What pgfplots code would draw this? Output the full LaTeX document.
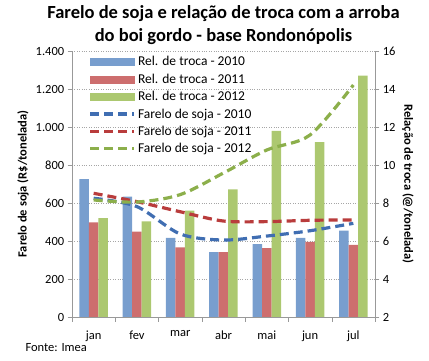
\documentclass[border=0pt]{standalone}
\usepackage{pgfplots}
\pgfplotsset{compat=1.18}
\usepackage{fontspec}
\setmainfont{Carlito}
\definecolor{barblue}{RGB}{120,158,206}
\definecolor{barred}{RGB}{205,110,110}
\definecolor{bargreen}{RGB}{172,200,112}
\definecolor{lnblue}{RGB}{64,110,178}
\definecolor{lnred}{RGB}{185,60,60}
\definecolor{lngreen}{RGB}{140,175,75}
\pgfplotsset{dashln/.style={line width=3.2pt, dash pattern=on 9pt off 5pt, smooth, tension=0.5, mark=none,
  legend image code/.code={\draw[##1] (0pt,0pt) -- (44pt,0pt);}}}
\begin{document}
\begin{tikzpicture}
\path[use as bounding box] (-72pt,-44pt) rectangle (357pt,317pt);
\begin{axis}[
  width=303pt, height=266pt, scale only axis,
  xmin=-0.5, xmax=6.5, ymin=2, ymax=16,
  axis y line*=right, axis x line*=bottom,
  axis line style={gray!80},
  ybar=0pt, bar width=9.5pt,
  xtick={0,...,6}, xticklabels={jan,fev,mar,abr,mai,jun,jul},
  major x tick style={draw=none},
  minor xtick={-0.5,0.5,...,6.5},
  minor tick length=5pt,
  tick align=outside,
  tick style={gray!80},
  ytick={2,4,...,16},
  ymajorgrids, grid style={dotted, gray!70, thin},
  ylabel={Relação de troca (@/tonelada)},
  ylabel style={rotate=180, font=\bfseries\fontsize{12.5}{14}\selectfont},
  tick label style={font=\fontsize{12.5}{14}\selectfont},
  xticklabel style={yshift=-6pt},
  /pgf/number format/assume math mode=true,
]
\addplot[fill=barblue, draw=none] coordinates {(0,9.26) (1,8.33) (2,6.17) (3,5.42) (4,5.84) (5,6.16) (6,6.54)};
\addplot[fill=barred, draw=none] coordinates {(0,6.98) (1,6.49) (2,5.67) (3,5.42) (4,5.62) (5,5.96) (6,5.80)};
\addplot[fill=bargreen, draw=none] coordinates {(0,7.20) (1,7.03) (2,7.60) (3,8.72) (4,11.80) (5,11.20) (6,14.70)};
\end{axis}
\begin{axis}[
  width=303pt, height=266pt, scale only axis, clip=false,
  xmin=-0.5, xmax=6.5, ymin=0, ymax=1400,
  axis y line*=left, hide x axis,
  axis line style={gray!80},
  tick align=outside, tick style={gray!80},
  ytick={0,200,...,1400},
  yticklabel style={/pgf/number format/.cd, fixed, 1000 sep={.}},
  tick label style={font=\fontsize{12.5}{14}\selectfont},
  /pgf/number format/assume math mode=true,
  ylabel={Farelo de soja (R\$/tonelada)},
  ylabel style={font=\bfseries\fontsize{12.5}{14}\selectfont},
  title={Farelo de soja e relação de troca com a arroba\\do boi gordo - base Rondonópolis},
  title style={align=center, font=\bfseries\fontsize{18.5}{23}\selectfont, yshift=-3pt},
  legend style={at={(0.045,0.995)}, anchor=north west, draw=none, fill=none,
    font=\fontsize{13.5}{15}\selectfont, row sep=2.5pt},
  legend cell align=left,
]
\addlegendimage{legend image code/.code={\fill[barblue] (0pt,-3.5pt) rectangle (44pt,3.5pt);}}
\addlegendentry{Rel. de troca - 2010}
\addlegendimage{legend image code/.code={\fill[barred] (0pt,-3.5pt) rectangle (44pt,3.5pt);}}
\addlegendentry{Rel. de troca - 2011}
\addlegendimage{legend image code/.code={\fill[bargreen] (0pt,-3.5pt) rectangle (44pt,3.5pt);}}
\addlegendentry{Rel. de troca - 2012}
\addplot[lnblue, dashln] coordinates {(0,625) (1,581) (2,437) (3,405) (4,426) (5,454) (6,493)};
\addlegendentry{Farelo de soja - 2010}
\addplot[lnred, dashln] coordinates {(0,651) (1,607) (2,554) (3,505) (4,502) (5,509) (6,511)};
\addlegendentry{Farelo de soja - 2011}
\addplot[lngreen, dashln] coordinates {(0,616) (1,605) (2,644) (3,758) (4,879) (5,958) (6,1221)};
\addlegendentry{Farelo de soja - 2012}
\node[anchor=north west, font=\fontsize{12.5}{14}\selectfont] at (rel axis cs:-0.165,-0.085) {Fonte: Imea};
\end{axis}
\end{tikzpicture}
\end{document}
